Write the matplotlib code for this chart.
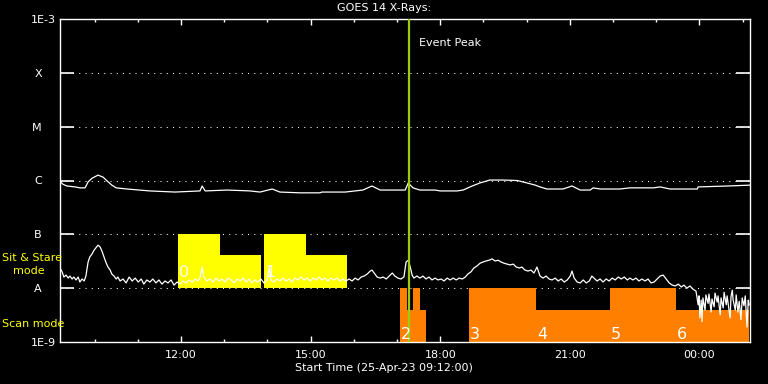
import numpy as np
import matplotlib
matplotlib.use("Agg")
import matplotlib.pyplot as plt

# ---------------------------------------------------------------------------
# Data (time in hours since 25-Apr-23 09:12:00, flux in W/m^2)
# ---------------------------------------------------------------------------
START_HOUR = 9.2

long_t = [0.00, 0.07, 0.16, 0.35, 0.46, 0.58, 0.65, 0.74, 0.88, 1.00, 1.09, 1.20,
          1.30, 1.55, 2.08, 2.66, 3.24, 3.29, 3.36, 3.87, 4.40, 4.63, 4.91, 5.09,
          5.56, 6.02, 6.06, 6.60, 7.01, 7.22, 7.41, 7.99, 8.06, 8.17, 8.33, 8.68,
          8.80, 9.19, 9.33, 9.54, 9.72, 9.95, 10.25, 10.58, 10.81, 11.00, 11.11,
          11.27, 11.64, 11.85, 12.04, 12.27, 12.34, 12.50, 12.96, 13.19, 13.73,
          13.89, 14.12, 14.75, 14.77, 15.44, 15.97]
long_flux = np.array([9.6, 8.5, 7.9, 7.6, 7.3, 7.3, 9.4, 11.0, 12.6, 11.5, 9.8, 8.2,
                      7.3, 6.95, 6.4, 6.1, 6.4, 7.9, 6.4, 6.65, 6.4, 6.1, 6.95, 6.1,
                      5.9, 5.9, 6.1, 6.1, 6.65, 7.9, 6.65, 6.65, 9.0, 7.3, 6.65, 6.65,
                      6.4, 6.4, 6.65, 7.9, 9.0, 10.2, 10.2, 10.0, 9.0, 8.2, 7.6,
                      6.95, 6.95, 7.9, 6.65, 6.65, 7.3, 6.95, 6.95, 7.3, 7.3,
                      7.6, 6.95, 6.95, 7.6, 7.9, 8.2]) * 1e-7

short_t = [0.00, 0.05, 0.09, 0.14, 0.19, 0.23, 0.28, 0.32, 0.37, 0.42, 0.46, 0.51,
           0.56, 0.60, 0.65, 0.69, 0.74, 0.79, 0.83, 0.88, 0.93, 0.97, 1.02, 1.06,
           1.11, 1.16, 1.20, 1.25, 1.30, 1.34, 1.39, 1.46, 1.53, 1.60, 1.67, 1.74,
           1.81, 1.88, 1.94, 2.01, 2.08, 2.15, 2.22, 2.29, 2.36, 2.43, 2.50, 2.57,
           2.64, 2.71, 2.78, 2.85, 2.92, 2.99, 3.06, 3.13, 3.19, 3.24, 3.29, 3.33,
           3.40, 3.47, 3.54, 3.61, 3.68, 3.75, 3.82, 3.89, 3.96, 4.03, 4.10, 4.17,
           4.24, 4.31, 4.38, 4.44, 4.51, 4.58, 4.65, 4.72, 4.79, 4.84, 4.88, 4.95,
           5.02, 5.09, 5.16, 5.23, 5.30, 5.37, 5.44, 5.51, 5.58, 5.65, 5.72, 5.79,
           5.86, 5.93, 6.00, 6.06, 6.13, 6.20, 6.27, 6.34, 6.41, 6.48, 6.55, 6.62,
           6.69, 6.76, 6.83, 6.90, 6.97, 7.04, 7.11, 7.18, 7.22, 7.27, 7.34, 7.41,
           7.48, 7.55, 7.62, 7.69, 7.75, 7.82, 7.89, 7.96, 8.01, 8.06, 8.10, 8.15,
           8.19, 8.26, 8.33, 8.40, 8.47, 8.54, 8.61, 8.68, 8.75, 8.82, 8.89, 8.96,
           9.03, 9.10, 9.17, 9.24, 9.31, 9.38, 9.44, 9.51, 9.58, 9.65, 9.72, 9.79,
           9.86, 9.93, 10.00, 10.07, 10.14, 10.21, 10.28, 10.35, 10.42, 10.49,
           10.56, 10.63, 10.69, 10.76, 10.83, 10.90, 10.97, 11.04, 11.11, 11.18,
           11.25, 11.32, 11.39, 11.46, 11.53, 11.60, 11.67, 11.74, 11.81, 11.85,
           11.90, 11.97, 12.04, 12.11, 12.18, 12.25, 12.31, 12.36, 12.43, 12.50,
           12.57, 12.64, 12.71, 12.78, 12.85, 12.92, 12.99, 13.06, 13.13, 13.19,
           13.26, 13.33, 13.40, 13.47, 13.54, 13.61, 13.68, 13.75, 13.82, 13.89,
           13.96, 14.03, 14.10, 14.17, 14.24, 14.31, 14.38, 14.44, 14.51, 14.58,
           14.65, 14.72, 14.77, 14.79, 14.81, 14.84, 14.86, 14.88, 14.93, 14.95,
           15.00, 15.02, 15.07, 15.09, 15.14, 15.16, 15.21, 15.23, 15.28, 15.30,
           15.35, 15.37, 15.42, 15.44, 15.51, 15.53, 15.56, 15.58, 15.63, 15.65,
           15.69, 15.72, 15.76, 15.79, 15.83, 15.86, 15.90, 15.93, 15.95]
short_flux = np.array([
    2.37, 2.0, 1.61, 1.75, 1.54, 1.68, 1.48, 1.61, 1.42, 1.61, 1.30, 1.48,
    1.36, 1.68, 3.06, 3.8, 4.3, 5.1, 5.6, 6.3, 5.8, 4.9, 3.8, 3.06,
    2.47, 2.17, 1.83, 1.68, 1.48, 1.61, 1.36, 1.48, 1.25, 1.61, 1.36, 1.54,
    1.30, 1.48, 1.19, 1.42, 1.30, 1.48, 1.25, 1.42, 1.19, 1.36, 1.25, 1.42,
    1.14, 1.30, 1.19, 1.36, 1.25, 1.42, 1.30, 1.48, 1.36, 1.54, 2.47, 1.61,
    1.36, 1.48, 1.30, 1.54, 1.36, 1.48, 1.30, 1.54, 1.42, 1.25, 1.48, 1.36,
    1.54, 1.30, 1.48, 1.25, 1.42, 1.30, 1.48, 1.25, 1.42, 2.37, 1.42, 1.30,
    1.48, 1.36, 1.54, 1.36, 1.48, 1.30, 1.54, 1.42, 1.61, 1.42, 1.54, 1.36,
    1.54, 1.42, 1.61, 1.42, 1.54, 1.36, 1.54, 1.42, 1.54, 1.36, 1.48, 1.36,
    1.48, 1.36, 1.54, 1.42, 1.61, 1.68, 1.83, 2.08, 2.17, 1.91, 1.61, 1.54,
    1.61, 1.48, 1.68, 1.91, 1.68, 1.54, 1.48, 1.61, 3.06, 3.3, 2.58, 1.75,
    1.54, 1.68, 1.54, 1.68, 1.48, 1.61, 1.42, 1.54, 1.42, 1.48, 1.36, 1.54,
    1.42, 1.54, 1.42, 1.54, 1.48, 1.61, 1.83, 2.0, 2.37, 2.58, 2.9, 3.06,
    3.2, 3.3, 3.5, 3.2, 3.3, 3.06, 2.9, 2.8, 2.7, 2.8,
    2.47, 2.37, 2.47, 2.17, 2.08, 2.17, 1.91, 2.47, 1.68, 1.54,
    1.68, 1.48, 1.42, 1.54, 1.36, 1.48, 1.30, 1.42, 1.68, 2.08,
    1.54, 1.30, 1.25, 1.42, 1.25, 1.36, 1.68, 1.54, 1.36, 1.48,
    1.30, 1.48, 1.36, 1.54, 1.42, 1.61, 1.48, 1.61, 1.42, 1.54,
    1.42, 1.54, 1.36, 1.48, 1.36, 1.48, 1.25, 1.30, 1.48, 1.68,
    1.75, 1.48, 1.25, 1.14, 1.10, 1.19, 1.05, 1.14, 1.00, 1.10,
    0.96, 0.88, 0.49, 0.72, 0.28, 0.60, 0.24, 0.66, 0.39, 0.75,
    0.52, 0.78, 0.36, 0.63, 0.45, 0.81, 0.55, 0.72, 0.32, 0.66,
    0.43, 0.84, 0.49, 0.72, 0.28, 0.69, 0.92, 0.60, 0.39, 0.75,
    0.36, 0.57, 0.26, 0.66, 0.47, 0.72, 0.19, 0.60, 0.49]) * 1e-8

# Observation blocks: (label, segment starts, segment ends, segment tops)
sit_labels = ["0", "1"]
sit_starts = [[2.73, 3.70], [4.72, 5.69]]
sit_ends = [[3.70, 4.65], [5.69, 6.64]]
sit_tops = [[1e-7, 4.1e-8], [1e-7, 4.1e-8]]

scan_labels = ["2", "3", "4", "5", "6"]
scan_starts = [[7.87, 8.04, 8.16, 8.33], [9.47], [11.02], [12.73], [14.26]]
scan_ends = [[8.04, 8.16, 8.33, 8.47], [11.02], [12.73], [14.26], [15.95]]
scan_tops = [[1e-8, 3.9e-9, 1e-8, 3.9e-9], [1e-8], [3.9e-9], [1e-8], [3.9e-9]]

event_peak = 8.08

level_flux = [1e-3, 1e-4, 1e-5, 1e-6, 1e-7, 1e-8, 1e-9]
level_names = ["1E-3", "X", "M", "C", "B", "A", "1E-9"]

major_clock = ["12:00", "15:00", "18:00", "21:00", "00:00"]

# ---------------------------------------------------------------------------
FG = "white"
plt.rcParams["font.family"] = "DejaVu Sans"

fig = plt.figure(figsize=(7.68, 3.84), dpi=100, facecolor="black")
ax = fig.add_axes([60 / 768, 42 / 384, 690 / 768, 323 / 384], facecolor="black")
ax.set_yscale("log")
ax.set_xlim(0, 15.97)
ax.set_ylim(1e-9, 1e-3)

# dotted flare-class levels
for lv in level_flux[1:-1]:
    ax.axhline(lv, color=FG, lw=0.75, ls=(0, (1, 5)), zorder=1)


def draw_blocks(labels, starts, ends, tops, base, colour, label_y):
    for lab, s, e, t in zip(labels, starts, ends, tops):
        s, e, t = np.array(s), np.array(e), np.array(t)
        ax.bar(s, t - base, width=e - s, bottom=base, align="edge",
               color=colour, linewidth=0, zorder=2)
        ax.text(s[0] + 0.02, label_y, lab, color=FG, fontsize=11.5,
                ha="left", va="bottom", zorder=5)


draw_blocks(sit_labels, sit_starts, sit_ends, sit_tops, 1e-8, "#ffff00", 1.42e-8)
draw_blocks(scan_labels, scan_starts, scan_ends, scan_tops, 1e-9, "#ff8000", 1.02e-9)

ax.plot(long_t, long_flux, color=FG, lw=0.9, zorder=3)
ax.plot(short_t, short_flux, color=FG, lw=0.9, zorder=3)

ax.axvline(event_peak, color="#99cc11", lw=1.6, zorder=4)
ax.text(event_peak + 0.22, 10 ** -3.45, "Event Peak", color=FG, fontsize=8,
        ha="left", va="center")

# axes styling
for sp in ax.spines.values():
    sp.set_color(FG)
    sp.set_linewidth(1.0)

ax.set_yticks(level_flux)
ax.set_yticklabels(level_names)
ax.minorticks_off()
ax.tick_params(axis="y", which="major", direction="in", length=10, width=1.2,
               colors=FG, labelsize=8, left=True, right=True, pad=3)
yticks = ax.yaxis.get_major_ticks()
for i, tk in enumerate(yticks):
    if i in (0, len(yticks) - 1):
        tk.tick1line.set_visible(False)
        tk.tick2line.set_visible(False)
    else:
        tk.set_pad(13)

major_pos = [(12 - START_HOUR) + 3 * i for i in range(len(major_clock))]
minor_pos = [(10 - START_HOUR) + i for i in range(16) if (10 - START_HOUR) + i < 15.97]
ax.set_xticks(major_pos)
ax.set_xticklabels(major_clock)
ax.set_xticks(minor_pos, minor=True)
ax.tick_params(axis="x", which="major", direction="in", length=4.5, width=1,
               colors=FG, labelsize=8, top=True, pad=6)
ax.tick_params(axis="x", which="minor", direction="in", length=2.2, width=1,
               colors=FG, top=True)

fig.text(0.5, 1 - 8 / 384, "GOES 14 X-Rays:", color=FG, fontsize=8,
         ha="center", va="center")
fig.text(0.5, 1 - 368 / 384, "Start Time (25-Apr-23 09:12:00)", color=FG,
         fontsize=8, ha="center", va="center")
fig.text(2 / 768, 1 - 258 / 384, "Sit & Stare", color="#ffff00",
         fontsize=8, ha="left", va="center")
fig.text(13 / 768, 1 - 271 / 384, "mode", color="#ffff00",
         fontsize=8, ha="left", va="center")
fig.text(2 / 768, 1 - 324 / 384, "Scan mode", color="#ffff00", fontsize=8,
         ha="left", va="center")

fig.savefig("out.png", dpi=100, facecolor="black")
